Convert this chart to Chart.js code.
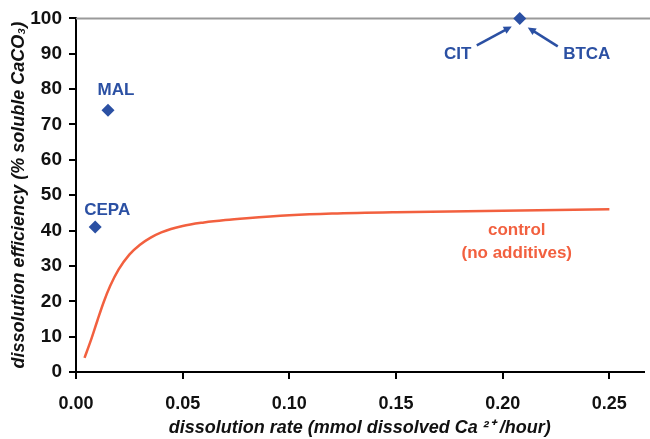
<!DOCTYPE html>
<html>
<head>
<meta charset="utf-8">
<script src="https://cdn.jsdelivr.net/npm/chart.js@4.4.1/dist/chart.umd.min.js"></script>
<style>
  html, body { margin: 0; padding: 0; background: #fff; }
  #wrap { width: 650px; height: 439px; }
</style>
</head>
<body>
<div id="wrap"><canvas id="chart"></canvas></div>
<script>
// control curve (no additives)
let controlX = [0.004, 0.007, 0.010, 0.013, 0.016, 0.020, 0.025, 0.030, 0.035, 0.040, 0.050, 0.060, 0.070, 0.080, 0.100, 0.120, 0.150, 0.200, 0.250];
let controlY = [4, 9, 14.5, 19.8, 24.3, 29, 33.2, 36, 38, 39.5, 41.3, 42.3, 43, 43.5, 44.3, 44.8, 45.2, 45.6, 46];

// additives
let additiveNames = ["MAL", "CEPA", "CIT / BTCA"];
let additiveX = [0.015, 0.009, 0.208];
let additiveY = [74, 41, 100];

let xTicks = [0, 0.05, 0.10, 0.15, 0.20, 0.25];
let yTicks = [0, 10, 20, 30, 40, 50, 60, 70, 80, 90, 100];

const blue = "#2b50a3";
const red = "#f2603f";
const FONT = "'Liberation Sans', Arial, sans-serif";

// text labels, placed by offset from a data point (pixels)
let notes = [
  { text: "MAL", x: 0.015, y: 74, dx: 8, dy: -20, color: blue },
  { text: "CEPA", x: 0.009, y: 41, dx: 12, dy: -17, color: blue },
  { text: "CIT", x: 0.208, y: 100, dx: -62, dy: 36, color: blue },
  { text: "BTCA", x: 0.208, y: 100, dx: 67, dy: 36, color: blue },
  { text: "control", x: 0.208, y: 40, dx: -3, dy: 0, color: red },
  { text: "(no additives)", x: 0.208, y: 40, dx: -3, dy: 23, color: red }
];
// arrows: from offset (px) to offset (px) relative to point
let arrows = [
  { x: 0.208, y: 100, from: [-43, 27], to: [-8, 8] },
  { x: 0.208, y: 100, from: [38, 28], to: [8, 9] }
];

const extras = {
  id: "extras",
  beforeDatasetsDraw(chart) {
    let ctx = chart.ctx, a = chart.chartArea, ys = chart.scales.y;
    let top = ys.getPixelForValue(100);
    ctx.save();
    ctx.strokeStyle = "#9a9a9a";
    ctx.lineWidth = 2;
    ctx.beginPath();
    ctx.moveTo(a.left, top);
    ctx.lineTo(chart.width, top);
    ctx.stroke();
    ctx.restore();
  },
  afterDatasetsDraw(chart) {
    let ctx = chart.ctx, xs = chart.scales.x, ys = chart.scales.y;
    ctx.save();
    ctx.font = "bold 17px " + FONT;
    ctx.textAlign = "center";
    ctx.textBaseline = "middle";
    notes.forEach(n => {
      ctx.fillStyle = n.color;
      ctx.fillText(n.text, xs.getPixelForValue(n.x) + n.dx, ys.getPixelForValue(n.y) + n.dy);
    });
    ctx.strokeStyle = blue;
    ctx.fillStyle = blue;
    ctx.lineWidth = 2.5;
    arrows.forEach(ar => {
      let px = xs.getPixelForValue(ar.x), py = ys.getPixelForValue(ar.y);
      let x1 = px + ar.from[0], y1 = py + ar.from[1];
      let x2 = px + ar.to[0], y2 = py + ar.to[1];
      let ang = Math.atan2(y2 - y1, x2 - x1);
      ctx.beginPath();
      ctx.moveTo(x1, y1);
      ctx.lineTo(x2 - 5 * Math.cos(ang), y2 - 5 * Math.sin(ang));
      ctx.stroke();
      ctx.beginPath();
      ctx.moveTo(x2, y2);
      ctx.lineTo(x2 - 9 * Math.cos(ang - 0.45), y2 - 9 * Math.sin(ang - 0.45));
      ctx.lineTo(x2 - 9 * Math.cos(ang + 0.45), y2 - 9 * Math.sin(ang + 0.45));
      ctx.closePath();
      ctx.fill();
    });
    ctx.restore();
  }
};

new Chart(document.getElementById("chart"), {
  type: "scatter",
  data: {
    datasets: [
      {
        label: "control",
        data: controlX.map((x, i) => ({ x: x, y: controlY[i] })),
        showLine: true,
        cubicInterpolationMode: "monotone",
        borderColor: red,
        borderWidth: 2.5,
        pointRadius: 0,
        clip: false
      },
      {
        label: "additives",
        data: additiveX.map((x, i) => ({ x: x, y: additiveY[i] })),
        pointStyle: "rectRot",
        pointRadius: 6.5,
        backgroundColor: blue,
        borderColor: blue,
        borderWidth: 0,
        clip: false
      }
    ]
  },
  plugins: [extras],
  options: {
    responsive: true,
    maintainAspectRatio: false,
    animation: false,
    layout: { padding: { top: 17, right: 0, left: 8, bottom: 0 } },
    plugins: { legend: { display: false }, tooltip: { enabled: false } },
    scales: {
      x: {
        type: "linear",
        min: 0,
        max: 0.266,
        afterBuildTicks: s => { s.ticks = xTicks.map(v => ({ value: v })); },
        afterFit: s => { s.height = 67; },
        border: { color: "#000", width: 2 },
        grid: { drawOnChartArea: false, drawTicks: true, tickLength: 7, color: "#000", lineWidth: 2 },
        ticks: {
          color: "#111",
          padding: 14,
          font: { family: FONT, size: 18, weight: "bold" },
          callback: v => v.toFixed(2)
        },
        title: {
          display: true,
          text: "dissolution rate (mmol dissolved Ca \u00B2\u207A /hour)",
          color: "#111",
          padding: { top: 4, bottom: 0 },
          font: { family: FONT, size: 18, weight: "bold", style: "italic" }
        }
      },
      y: {
        min: 0,
        max: 100,
        afterBuildTicks: s => { s.ticks = yTicks.map(v => ({ value: v })); },
        afterFit: s => { s.width = 68; },
        border: { color: "#000", width: 2 },
        grid: { drawOnChartArea: false, drawTicks: true, tickLength: 7, color: "#000", lineWidth: 2 },
        ticks: {
          color: "#111",
          padding: 7,
          font: { family: FONT, size: 19, weight: "bold" }
        },
        title: {
          display: true,
          text: "dissolution efficiency (% soluble CaCO\u2083)",
          color: "#111",
          padding: { top: 0, bottom: 2 },
          font: { family: FONT, size: 18, weight: "bold", style: "italic" }
        }
      }
    }
  }
});
</script>
</body>
</html>
